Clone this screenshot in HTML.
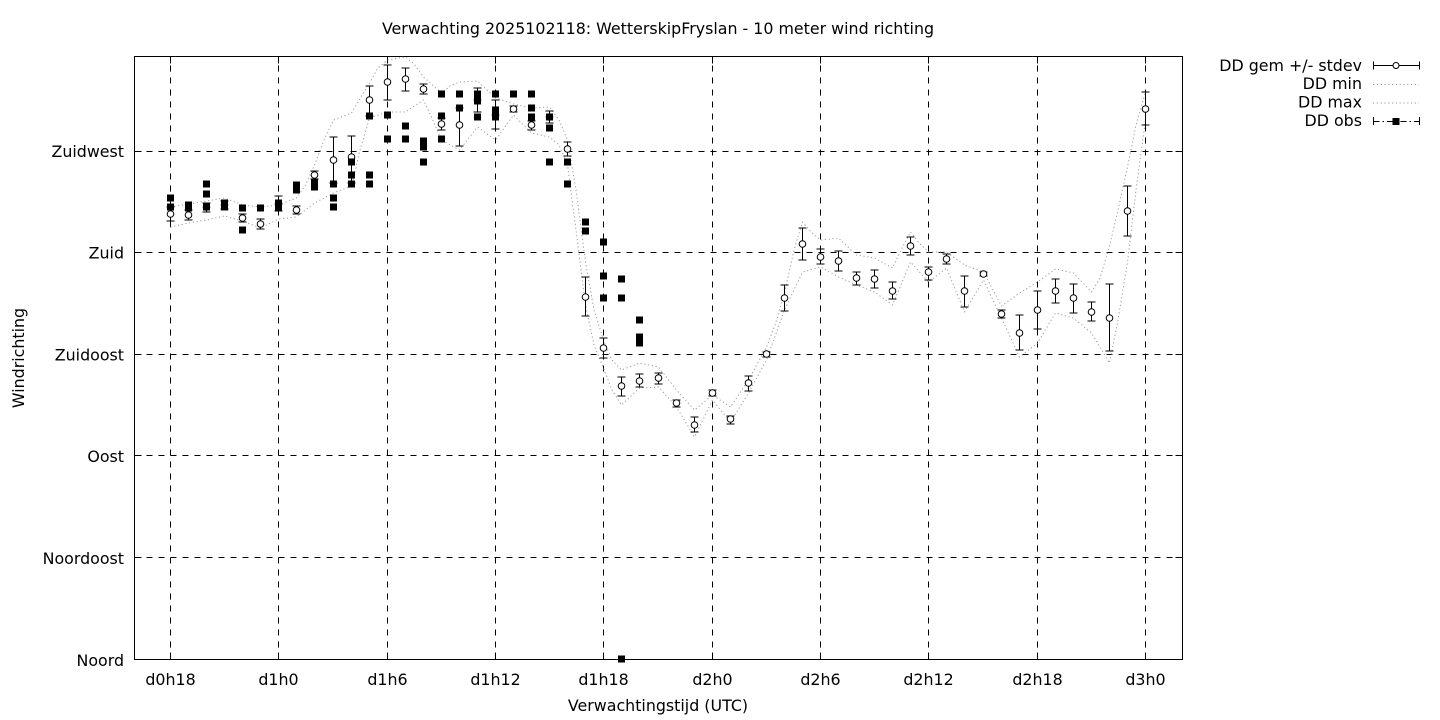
<!DOCTYPE html>
<html>
<head>
<meta charset="utf-8">
<style>
html,body{margin:0;padding:0;background:#fff;}
svg{display:block;}
text{font-family:"DejaVu Sans","Liberation Sans",sans-serif;font-size:15.85px;fill:#000;}
</style>
</head>
<body>
<svg width="1440" height="720" viewBox="0 0 1440 720" xmlns="http://www.w3.org/2000/svg">
<rect width="1440" height="720" fill="#fff"/>

<g stroke="#000" stroke-width="1" stroke-dasharray="6,6" fill="none" shape-rendering="crispEdges">
<path d="M134.5 557.5H1182.5M134.5 455.5H1182.5M134.5 354.5H1182.5M134.5 252.5H1182.5M134.5 151.5H1182.5"/>
<path d="M170.5 659.5V56.5M278.5 659.5V56.5M387.5 659.5V56.5M495.5 659.5V56.5M603.5 659.5V56.5M712.5 659.5V56.5M820.5 659.5V56.5M928.5 659.5V56.5M1037.5 659.5V56.5M1145.5 659.5V56.5"/>
</g>

<g stroke="#000" stroke-width="1" fill="none" shape-rendering="crispEdges">
<path d="M134.5 557.5h7M134.5 455.5h7M134.5 354.5h7M134.5 252.5h7M134.5 151.5h7"/>
<path d="M1182.5 557.5h-7M1182.5 455.5h-7M1182.5 354.5h-7M1182.5 252.5h-7M1182.5 151.5h-7"/>
<path d="M170.5 659.5v-7M278.5 659.5v-7M387.5 659.5v-7M495.5 659.5v-7M603.5 659.5v-7M712.5 659.5v-7M820.5 659.5v-7M928.5 659.5v-7M1037.5 659.5v-7M1145.5 659.5v-7"/>
<path d="M170.5 56.5v7M278.5 56.5v7M387.5 56.5v7M495.5 56.5v7M603.5 56.5v7M712.5 56.5v7M820.5 56.5v7M928.5 56.5v7M1037.5 56.5v7M1145.5 56.5v7"/>
</g>

<rect x="134.5" y="56.5" width="1048" height="603" fill="none" stroke="#000" stroke-width="1" shape-rendering="crispEdges"/>

<g fill="none" stroke="#9a9a9a" stroke-width="1" stroke-dasharray="1.2,2.6" stroke-linejoin="round">
<polyline points="170.5,207 188.5,204 206.5,201 224.5,198 242.5,205 260.5,207 278.5,205 296.5,198 305,186 314.5,165 324,140 333.5,120 351.5,113 369.5,83 378,68 387.5,60 405.5,57 414,64 423.5,77 441.5,93 450,86 459.5,82 477.5,81 495.5,98 513.5,104 531.5,108 549.5,107 559,120 567.5,140 576,190 585.5,262 594,310 603.5,340 612,360 621.5,370 639.5,363 658.5,367 676.5,390 694.5,410 712.5,395 730.5,407 748.5,380 766.5,347 775,325 784.5,293 794,250 802.5,222 811,232 820.5,240 838.5,238 856.5,255 874.5,258 892.5,268 902,248 910.5,232 920,244 928.5,252 946.5,252 964.5,265 983.5,272 1001.5,306 1019.5,293 1037.5,282 1055.5,269 1073.5,273 1091.5,292 1100,278 1109.5,246 1118,210 1127.5,167 1136,125 1145.5,92"/>
<polyline points="170.5,227 188.5,223 206.5,220 224.5,216 242.5,221 260.5,228 278.5,219 296.5,217 314.5,203 333.5,193 351.5,186 360,150 369.5,118 387.5,112 405.5,112 423.5,100 432,118 441.5,140 459.5,150 477.5,127 495.5,140 513.5,115 531.5,133 549.5,137 559,145 567.5,165 576,230 585.5,305 594,345 603.5,368 612,390 621.5,405 639.5,388 658.5,387 676.5,407 694.5,437 712.5,400 730.5,422 748.5,393 766.5,360 784.5,310 802.5,272 820.5,267 838.5,277 856.5,285 874.5,292 892.5,305 910.5,262 928.5,282 946.5,268 964.5,312 983.5,280 1001.5,318 1019.5,357 1037.5,343 1055.5,313 1073.5,318 1091.5,333 1109.5,363 1118,320 1127.5,262 1136,190 1145.5,120"/>
</g>

<path fill="none" stroke="#000" stroke-width="1" shape-rendering="crispEdges" d="M170.5 207V221M166.5 207h8M166.5 221h8M188.5 210V220M184.5 210h8M184.5 220h8M206.5 203V212M202.5 203h8M202.5 212h8M224.5 201V209M220.5 201h8M220.5 209h8M242.5 214V222M238.5 214h8M238.5 222h8M260.5 219V229M256.5 219h8M256.5 229h8M278.5 196V211M274.5 196h8M274.5 211h8M296.5 206V214M292.5 206h8M292.5 214h8M314.5 171V179M310.5 171h8M310.5 179h8M333.5 137V183M329.5 137h8M329.5 183h8M351.5 136V183M347.5 136h8M347.5 183h8M369.5 86V116M365.5 86h8M365.5 116h8M387.5 65V100M383.5 65h8M383.5 100h8M405.5 68V91M401.5 68h8M401.5 91h8M423.5 84V94M419.5 84h8M419.5 94h8M441.5 118V130M437.5 118h8M437.5 130h8M459.5 108V146M455.5 108h8M455.5 146h8M477.5 88V112M473.5 88h8M473.5 112h8M495.5 100V129M491.5 100h8M491.5 129h8M513.5 106V112M509.5 106h8M509.5 112h8M531.5 121V130M527.5 121h8M527.5 130h8M549.5 111V123M545.5 111h8M545.5 123h8M567.5 142V156M563.5 142h8M563.5 156h8M585.5 277V316M581.5 277h8M581.5 316h8M603.5 338V358M599.5 338h8M599.5 358h8M621.5 377V396M617.5 377h8M617.5 396h8M639.5 374V387M635.5 374h8M635.5 387h8M658.5 373V384M654.5 373h8M654.5 384h8M676.5 400V407M672.5 400h8M672.5 407h8M694.5 417V432M690.5 417h8M690.5 432h8M712.5 390V396M708.5 390h8M708.5 396h8M730.5 416V424M726.5 416h8M726.5 424h8M748.5 376V391M744.5 376h8M744.5 391h8M766.5 352V357M762.5 352h8M762.5 357h8M784.5 285V311M780.5 285h8M780.5 311h8M802.5 228V260M798.5 228h8M798.5 260h8M820.5 249V264M816.5 249h8M816.5 264h8M838.5 251V271M834.5 251h8M834.5 271h8M856.5 272V285M852.5 272h8M852.5 285h8M874.5 270V288M870.5 270h8M870.5 288h8M892.5 282V299M888.5 282h8M888.5 299h8M910.5 237V255M906.5 237h8M906.5 255h8M928.5 267V280M924.5 267h8M924.5 280h8M946.5 254V264M942.5 254h8M942.5 264h8M964.5 276V307M960.5 276h8M960.5 307h8M983.5 272V276M979.5 272h8M979.5 276h8M1001.5 310V318M997.5 310h8M997.5 318h8M1019.5 315V350M1015.5 315h8M1015.5 350h8M1037.5 291V329M1033.5 291h8M1033.5 329h8M1055.5 279V303M1051.5 279h8M1051.5 303h8M1073.5 284V313M1069.5 284h8M1069.5 313h8M1091.5 302V321M1087.5 302h8M1087.5 321h8M1109.5 284V351M1105.5 284h8M1105.5 351h8M1127.5 186V236M1123.5 186h8M1123.5 236h8M1145.5 92V125M1141.5 92h8M1141.5 125h8"/>

<g fill="#fff" stroke="#000" stroke-width="1">
<circle cx="170.5" cy="214" r="3.3"/><circle cx="188.5" cy="215" r="3.3"/><circle cx="206.5" cy="207" r="3.3"/><circle cx="224.5" cy="205" r="3.3"/>
<circle cx="242.5" cy="218" r="3.3"/><circle cx="260.5" cy="224" r="3.3"/><circle cx="278.5" cy="204" r="3.3"/><circle cx="296.5" cy="210" r="3.3"/>
<circle cx="314.5" cy="175" r="3.3"/><circle cx="333.5" cy="160" r="3.3"/><circle cx="351.5" cy="157" r="3.3"/><circle cx="369.5" cy="100" r="3.3"/>
<circle cx="387.5" cy="82" r="3.3"/><circle cx="405.5" cy="79" r="3.3"/><circle cx="423.5" cy="89" r="3.3"/><circle cx="441.5" cy="124" r="3.3"/>
<circle cx="459.5" cy="125" r="3.3"/><circle cx="477.5" cy="100" r="3.3"/><circle cx="495.5" cy="115" r="3.3"/><circle cx="513.5" cy="109" r="3.3"/>
<circle cx="531.5" cy="125" r="3.3"/><circle cx="549.5" cy="117" r="3.3"/><circle cx="567.5" cy="149" r="3.3"/><circle cx="585.5" cy="297" r="3.3"/>
<circle cx="603.5" cy="348" r="3.3"/><circle cx="621.5" cy="386" r="3.3"/><circle cx="639.5" cy="381" r="3.3"/><circle cx="658.5" cy="378" r="3.3"/>
<circle cx="676.5" cy="403" r="3.3"/><circle cx="694.5" cy="425" r="3.3"/><circle cx="712.5" cy="393" r="3.3"/><circle cx="730.5" cy="419" r="3.3"/>
<circle cx="748.5" cy="383" r="3.3"/><circle cx="766.5" cy="354" r="3.3"/><circle cx="784.5" cy="298" r="3.3"/><circle cx="802.5" cy="244" r="3.3"/>
<circle cx="820.5" cy="257" r="3.3"/><circle cx="838.5" cy="261" r="3.3"/><circle cx="856.5" cy="278" r="3.3"/><circle cx="874.5" cy="279" r="3.3"/>
<circle cx="892.5" cy="291" r="3.3"/><circle cx="910.5" cy="246" r="3.3"/><circle cx="928.5" cy="272" r="3.3"/><circle cx="946.5" cy="259" r="3.3"/>
<circle cx="964.5" cy="291" r="3.3"/><circle cx="983.5" cy="274" r="3.3"/><circle cx="1001.5" cy="314" r="3.3"/><circle cx="1019.5" cy="333" r="3.3"/>
<circle cx="1037.5" cy="310" r="3.3"/><circle cx="1055.5" cy="291" r="3.3"/><circle cx="1073.5" cy="298" r="3.3"/><circle cx="1091.5" cy="312" r="3.3"/>
<circle cx="1109.5" cy="318" r="3.3"/><circle cx="1127.5" cy="211" r="3.3"/><circle cx="1145.5" cy="109" r="3.3"/>
</g>

<g fill="#000">
<rect x="167" y="194.5" width="7" height="7"/><rect x="167" y="203.5" width="7" height="7"/>
<rect x="185" y="201.5" width="7" height="7"/><rect x="185" y="204.5" width="7" height="7"/>
<rect x="203" y="180.5" width="7" height="7"/><rect x="203" y="190.5" width="7" height="7"/><rect x="203" y="203.5" width="7" height="7"/>
<rect x="221" y="199.5" width="7" height="7"/><rect x="221" y="203.5" width="7" height="7"/>
<rect x="239" y="204.5" width="7" height="7"/><rect x="239" y="226.5" width="7" height="7"/>
<rect x="257" y="204.5" width="7" height="7"/>
<rect x="275" y="199.5" width="7" height="7"/><rect x="275" y="203.5" width="7" height="7"/>
<rect x="293" y="181.5" width="7" height="7"/><rect x="293" y="186.5" width="7" height="7"/>
<rect x="311" y="179.5" width="7" height="7"/><rect x="311" y="183.5" width="7" height="7"/>
<rect x="330" y="180.5" width="7" height="7"/><rect x="330" y="194.5" width="7" height="7"/><rect x="330" y="203.5" width="7" height="7"/>
<rect x="348" y="158.5" width="7" height="7"/><rect x="348" y="171.5" width="7" height="7"/><rect x="348" y="180.5" width="7" height="7"/>
<rect x="366" y="112.5" width="7" height="7"/><rect x="366" y="171.5" width="7" height="7"/><rect x="366" y="180.5" width="7" height="7"/>
<rect x="384" y="111.5" width="7" height="7"/><rect x="384" y="135.5" width="7" height="7"/>
<rect x="402" y="122.5" width="7" height="7"/><rect x="402" y="135.5" width="7" height="7"/>
<rect x="420" y="137.5" width="7" height="7"/><rect x="420" y="143.5" width="7" height="7"/><rect x="420" y="158.5" width="7" height="7"/>
<rect x="438" y="90.5" width="7" height="7"/><rect x="438" y="112.5" width="7" height="7"/><rect x="438" y="135.5" width="7" height="7"/>
<rect x="456" y="90.5" width="7" height="7"/><rect x="456" y="104.5" width="7" height="7"/>
<rect x="474" y="90.5" width="7" height="7"/><rect x="474" y="97.5" width="7" height="7"/><rect x="474" y="113.5" width="7" height="7"/>
<rect x="492" y="90.5" width="7" height="7"/><rect x="492" y="106.5" width="7" height="7"/><rect x="492" y="113.5" width="7" height="7"/>
<rect x="510" y="90.5" width="7" height="7"/>
<rect x="528" y="90.5" width="7" height="7"/><rect x="528" y="104.5" width="7" height="7"/><rect x="528" y="113.5" width="7" height="7"/>
<rect x="546" y="113.5" width="7" height="7"/><rect x="546" y="124.5" width="7" height="7"/><rect x="546" y="158.5" width="7" height="7"/>
<rect x="564" y="158.5" width="7" height="7"/><rect x="564" y="180.5" width="7" height="7"/>
<rect x="582" y="218.5" width="7" height="7"/><rect x="582" y="227.5" width="7" height="7"/>
<rect x="600" y="238.5" width="7" height="7"/><rect x="600" y="272.5" width="7" height="7"/><rect x="600" y="294.5" width="7" height="7"/>
<rect x="618" y="275.5" width="7" height="7"/><rect x="618" y="294.5" width="7" height="7"/><rect x="618" y="655.5" width="7" height="7"/>
<rect x="636" y="316.5" width="7" height="7"/><rect x="636" y="333.5" width="7" height="7"/><rect x="636" y="339.5" width="7" height="7"/>
</g>

<g text-anchor="end">
<text x="124" y="666">Noord</text>
<text x="124" y="564">Noordoost</text>
<text x="124" y="462">Oost</text>
<text x="124" y="360.5">Zuidoost</text>
<text x="124" y="258.5">Zuid</text>
<text x="124" y="157">Zuidwest</text>
</g>
<g text-anchor="middle">
<text x="170.5" y="685">d0h18</text>
<text x="278.5" y="685">d1h0</text>
<text x="387.5" y="685">d1h6</text>
<text x="495.5" y="685">d1h12</text>
<text x="603.5" y="685">d1h18</text>
<text x="712.5" y="685">d2h0</text>
<text x="820.5" y="685">d2h6</text>
<text x="928.5" y="685">d2h12</text>
<text x="1037.5" y="685">d2h18</text>
<text x="1145.5" y="685">d3h0</text>
<text x="658" y="711">Verwachtingstijd (UTC)</text>
<text x="658" y="34">Verwachting 2025102118: WetterskipFryslan - 10 meter wind richting</text>
<text transform="translate(24,358) rotate(-90)">Windrichting</text>
</g>

<g text-anchor="end">
<text x="1362" y="71">DD gem +/- stdev</text>
<text x="1362" y="89">DD min</text>
<text x="1362" y="107.5">DD max</text>
<text x="1362" y="126">DD obs</text>
</g>
<path fill="none" stroke="#000" stroke-width="1" shape-rendering="crispEdges" d="M1373.5 61.5v8M1373.5 65.5h46M1419.5 61.5v8M1373.5 117v8M1419.5 117v8"/>
<circle cx="1396" cy="65.5" r="3" fill="#fff" stroke="#000"/>
<path fill="none" stroke="#9a9a9a" stroke-width="1" stroke-dasharray="1.2,2.6" d="M1373 84.5h46M1373 103h46"/>
<path fill="none" stroke="#000" stroke-width="1" stroke-dasharray="6,3,1.5,3" shape-rendering="crispEdges" d="M1373.5 121.5h46"/>
<rect x="1392.5" y="118" width="7" height="7" fill="#000"/>
</svg>
</body>
</html>
